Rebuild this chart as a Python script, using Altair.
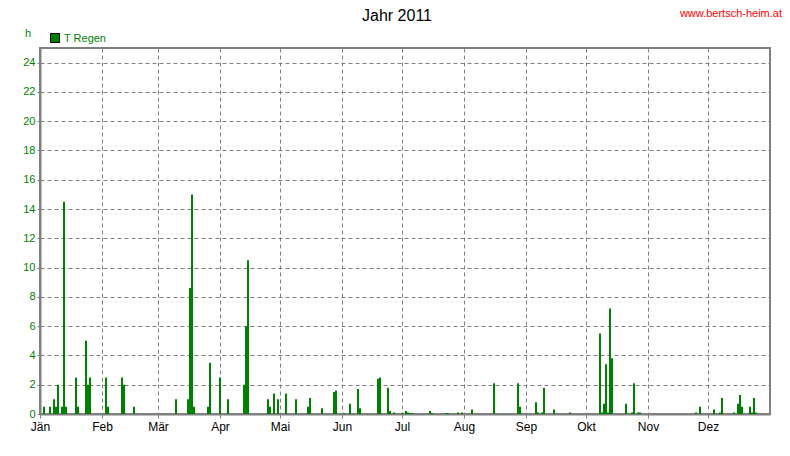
import altair as alt
import pandas as pd

# Day index (0 = 1 Jan 2011) and daily rain hours
DAYS = [1, 4, 6, 7, 8, 10, 11, 12, 17, 18, 22, 23, 24, 32, 33, 40, 41, 46,
        67, 73, 74, 75, 76, 83, 84, 89, 93, 101, 102, 103, 113, 114, 116, 118,
        122, 127, 133, 134, 140, 146, 147, 151, 154, 158, 159, 168, 169, 173,
        174, 176, 180, 182, 183, 184, 185, 194, 195, 202, 203, 208, 210, 215,
        226, 238, 239, 247, 248, 250, 251, 256, 264, 279, 280, 281, 282, 283,
        284, 285, 292, 295, 296, 298, 299, 327, 329, 336, 339, 340, 346, 348,
        349, 350, 354, 355, 356, 357]
RAIN = [0.5, 0.5, 1.0, 0.5, 2.0, 0.5, 14.5, 0.5, 2.5, 0.5, 5.0, 2.0, 2.5, 2.5, 0.5, 2.5, 2.0, 0.5,
        1.0, 1.0, 8.6, 15.0, 0.5, 0.5, 3.5, 2.5, 1.0, 2.0, 6.0, 10.5, 1.0, 0.5, 1.4, 1.0,
        1.4, 1.0, 0.5, 1.1, 0.4, 1.5, 1.6, 0.07, 0.7, 1.7, 0.4, 2.4, 2.5, 1.8,
        0.2, 0.1, 0.07, 0.2, 0.1, 0.07, 0.07, 0.2, 0.07, 0.07, 0.07, 0.1, 0.1, 0.3,
        2.1, 2.1, 0.5, 0.8, 0.1, 0.1, 1.8, 0.3, 0.1, 5.5, 0.1, 0.7, 3.4, 0.1,
        7.2, 3.8, 0.7, 0.1, 2.1, 0.1, 0.1, 0.1, 0.5, 0.3, 0.1, 1.1, 0.1, 0.7,
        1.3, 0.5, 0.5, 0.1, 1.1, 0.1]

MONTH_START = [0, 31, 59, 90, 120, 151, 181, 212, 243, 273, 304, 334]
MONTH_LABELS = ["Jän", "Feb", "Mär", "Apr", "Mai", "Jun", "Jul", "Aug", "Sep", "Okt", "Nov", "Dez"]
Y_TICKS = [0, 2, 4, 6, 8, 10, 12, 14, 16, 18, 20, 22, 24]

TITLE = "Jahr 2011"
URL = "www.bertsch-heim.at"
UNIT = "h"
SERIES = "T Regen"

FONT = "Liberation Sans"
GREEN = "#008000"
GRAY = "#808080"

df = pd.DataFrame({"day": DAYS, "rain": RAIN})

label_expr = ("[" + ",".join(f"'{m}'" for m in MONTH_LABELS) + "][indexof(["
              + ",".join(str(v) for v in MONTH_START) + "], datum.value)]")

bars = alt.Chart(df).transform_calculate(
    x0="datum.day + 0.5", x1="datum.day + 1.5"
).mark_bar(color=GREEN, strokeWidth=0).encode(
    x=alt.X("x0:Q",
            scale=alt.Scale(domain=[0, 365], nice=False, zero=False),
            axis=alt.Axis(values=MONTH_START, labelExpr=label_expr, title=None,
                          grid=True, gridColor=GRAY, gridDash=[4, 3], gridWidth=1,
                          domainColor=GRAY, domainWidth=2, tickColor=GRAY, tickSize=4,
                          labelColor="black", labelFont=FONT, labelFontSize=12,
                          labelPadding=3, labelAngle=0, labelAlign="center",
                          labelOverlap=False, labelFlush=False)),
    x2="x1:Q",
    y=alt.Y("rain:Q",
            scale=alt.Scale(domain=[0, 25], nice=False),
            axis=alt.Axis(values=Y_TICKS, title=None, grid=True, gridColor=GRAY,
                          gridDash=[4, 3], gridWidth=1, domainColor=GRAY, domainWidth=2,
                          tickColor=GRAY, tickSize=3, labelColor=GREEN, labelFont=FONT,
                          labelFontSize=11, labelPadding=2, labelOverlap=False,
                          labelFlush=False)),
    y2=alt.datum(0),
)


def txt(text, x, y, color, size, align="left"):
    return alt.Chart(pd.DataFrame({"t": [text]})).mark_text(
        align=align, baseline="alphabetic", font=FONT, fontSize=size, color=color
    ).encode(text="t:N", x=alt.value(x), y=alt.value(y))


title = txt(TITLE, 357, -27, "black", 16, "center")
url = txt(URL, 742, -31, "#ff0000", 11, "right")
unit = txt(UNIT, -15, -11, GREEN, 11)
legend_text = txt(SERIES, 24, -6, GREEN, 11)
legend_box = alt.Chart(pd.DataFrame({"t": [SERIES]})).mark_rect(
    fill=GREEN, stroke="black", strokeWidth=1
).encode(x=alt.value(10.5), x2=alt.value(19.5), y=alt.value(-14.5), y2=alt.value(-5.5))

chart = alt.layer(bars, title, url, unit, legend_box, legend_text).properties(
    width=730, height=366,
    padding={"left": 32, "top": 40, "right": 12, "bottom": 26},
    autosize=alt.AutoSizeParams(type="none"),
    background="white",
).configure_view(stroke=GRAY, strokeWidth=2)

chart.save("out.html", embed_options={"renderer": "svg", "actions": False})
